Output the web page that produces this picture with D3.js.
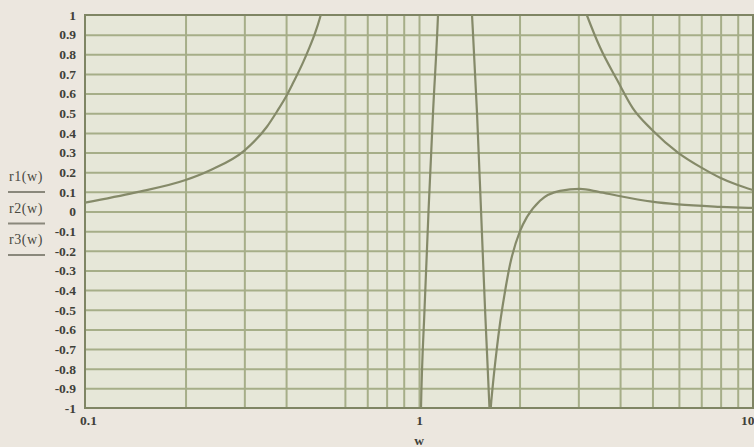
<!DOCTYPE html>
<html>
<head>
<meta charset="utf-8">
<script src="https://cdn.jsdelivr.net/npm/d3@7"></script>
<style>
  html, body { margin: 0; padding: 0; background: #ece7df; }
  svg { display: block; }
</style>
</head>
<body>
<div id="chart"></div>
<script>
// ---- data ----
const seriesNames = ["r1(w)", "r2(w)", "r3(w)"];
const yTickValues = [1, 0.9, 0.8, 0.7, 0.6, 0.5, 0.4, 0.3, 0.2, 0.1, 0, -0.1, -0.2, -0.3, -0.4, -0.5, -0.6, -0.7, -0.8, -0.9, -1];
const xTickLabels = [0.1, 1, 10];
const xGridValues = [0.2, 0.3, 0.4, 0.6, 0.7, 0.8, 0.9, 1, 2, 3, 4, 5, 6, 7, 8, 9];

// r1: two branches (null = break)
const r1W = [0.1, 0.141, 0.2, 0.237, 0.3, 0.35, 0.376, 0.4, 0.42, 0.45, 0.466, 0.489, 0.506, 0.515,
             null,
             1.0125, 1.0139, 1.0387, 1.0677, 1.1013, 1.140, 1.143];
const r1V = [0.045, 0.096, 0.16, 0.21, 0.31, 0.43, 0.51, 0.585, 0.655, 0.76, 0.82, 0.91, 0.99, 1.04,
             null,
             -1.05, -1.0, -0.5, 0.0, 0.5, 1.0, 1.05];
// r2: descending branch and rising branch (V below -1)
const r2W = [1.436, 1.4412, 1.4918, 1.534, 1.5769, 1.6255, 1.630,
             null,
             1.633, 1.64, 1.66, 1.708, 1.748, 1.80, 1.873, 2.006, 2.105, 2.303, 2.644, 3.03, 3.45, 3.94, 4.98, 5.96, 7.96, 10];
const r2V = [1.05, 1.0, 0.5, 0.0, -0.5, -1.0, -1.05,
             null,
             -1.05, -1.0, -0.90, -0.705, -0.57, -0.43, -0.27, -0.10, -0.028, 0.055, 0.105, 0.115, 0.100, 0.080, 0.050, 0.036, 0.024, 0.018];
// r3: decaying branch from the top
const r3W = [3.1, 3.18, 3.48, 3.92, 4.37, 4.99, 5.96, 7.03, 7.97, 8.96, 10];
const r3V = [1.05, 1.0, 0.837, 0.669, 0.525, 0.415, 0.30, 0.222, 0.172, 0.136, 0.109];

// ---- layout ----
const W = 754, H = 447;
const mLeft = 85, mRight = 753, mTop = 15, mBottom = 408;

const svg = d3.select("#chart").append("svg")
  .attr("width", W).attr("height", H)
  .style("font-family", "'Liberation Serif', 'DejaVu Serif', serif");

svg.append("rect").attr("width", W).attr("height", H).attr("fill", "#ece7df");

const x = d3.scaleLog().domain([0.1, 10]).range([mLeft, mRight]);
const y = d3.scaleLinear().domain([-1, 1]).range([mBottom, mTop]);

// plot background
svg.append("rect")
  .attr("x", mLeft).attr("y", mTop)
  .attr("width", mRight - mLeft).attr("height", mBottom - mTop)
  .attr("fill", "#e6e7d8");

const gridColor = "#a6ae88";

// horizontal grid via axis
svg.append("g")
  .attr("transform", `translate(${mLeft},0)`)
  .call(d3.axisRight(y).tickValues(yTickValues.filter(v => Math.abs(v) < 1)).tickSize(mRight - mLeft).tickFormat(""))
  .call(g => g.select(".domain").remove())
  .call(g => g.selectAll("line").attr("stroke", gridColor).attr("stroke-width", 2));

// vertical grid via axis
svg.append("g")
  .attr("transform", `translate(0,${mTop})`)
  .call(d3.axisBottom(x).tickValues(xGridValues).tickSize(mBottom - mTop).tickFormat(""))
  .call(g => g.select(".domain").remove())
  .call(g => g.selectAll("line").attr("stroke", gridColor).attr("stroke-width", 2));

// border
svg.append("rect")
  .attr("x", mLeft).attr("y", mTop)
  .attr("width", mRight - mLeft).attr("height", mBottom - mTop)
  .attr("fill", "none").attr("stroke", "#7f8564").attr("stroke-width", 2);

// y tick labels
svg.append("g")
  .attr("transform", `translate(${mLeft},0)`)
  .call(d3.axisLeft(y).tickValues(yTickValues).tickSize(0).tickPadding(9)
        .tickFormat(d => d === 0 ? "0" : (d < 0 ? "-" : "") + d3.format("")(Math.abs(d))))
  .call(g => g.select(".domain").remove())
  .call(g => g.selectAll("text")
      .attr("fill", "#3f4139")
      .style("font-size", "13.5px")
      .style("font-weight", "bold")
      .style("font-family", "'Liberation Serif', serif"));

// x tick labels
svg.append("g")
  .attr("transform", `translate(0,${mBottom})`)
  .call(d3.axisBottom(x).tickValues(xTickLabels).tickSize(0).tickPadding(7)
        .tickFormat(d => String(d)))
  .call(g => g.select(".domain").remove())
  .call(g => g.selectAll("text")
      .attr("fill", "#3f4139")
      .style("font-size", "13.5px")
      .style("font-weight", "bold")
      .style("font-family", "'Liberation Serif', serif"))
  .call(g => g.selectAll(".tick").filter(d => d === 0.1).select("text").attr("dx", 3))
  .call(g => g.selectAll(".tick").filter(d => d === 10).select("text")
      .attr("text-anchor", "end").attr("dx", 1));

// x axis title
svg.append("text")
  .attr("x", x(1)).attr("y", 445)
  .attr("text-anchor", "middle")
  .attr("fill", "#3f4139")
  .style("font-size", "13.5px").style("font-weight", "bold")
  .text("w");

// clip
svg.append("clipPath").attr("id", "plotclip")
  .append("rect").attr("x", mLeft).attr("y", mTop)
  .attr("width", mRight - mLeft).attr("height", mBottom - mTop);

const curveColor = "#858a69";
const line = d3.line()
  .defined(d => d.w != null && d.v != null)
  .x(d => x(d.w)).y(d => y(d.v))
  .curve(d3.curveMonotoneX);

const allSeries = [
  { name: seriesNames[0], w: r1W, v: r1V },
  { name: seriesNames[1], w: r2W, v: r2V },
  { name: seriesNames[2], w: r3W, v: r3V }
];

const plot = svg.append("g").attr("clip-path", "url(#plotclip)");
allSeries.forEach(s => {
  const pts = s.w.map((w, i) => ({ w: w, v: s.v[i] }));
  plot.append("path")
    .attr("d", line(pts))
    .attr("fill", "none")
    .attr("stroke", curveColor)
    .attr("stroke-width", 2.2)
    .attr("stroke-linejoin", "round");
});

// legend (labels with line below)
const legend = svg.append("g");
seriesNames.forEach((n, i) => {
  const by = 181 + i * 31.5;
  legend.append("text")
    .attr("x", 9).attr("y", by)
    .attr("fill", "#4a4a42")
    .style("font-size", "14px")
    .style("letter-spacing", "0.6px")
    .text(n);
  legend.append("line")
    .attr("x1", 8).attr("x2", 45)
    .attr("y1", by + 11).attr("y2", by + 11)
    .attr("stroke", "#8a887c").attr("stroke-width", 2);
});
</script>
</body>
</html>
